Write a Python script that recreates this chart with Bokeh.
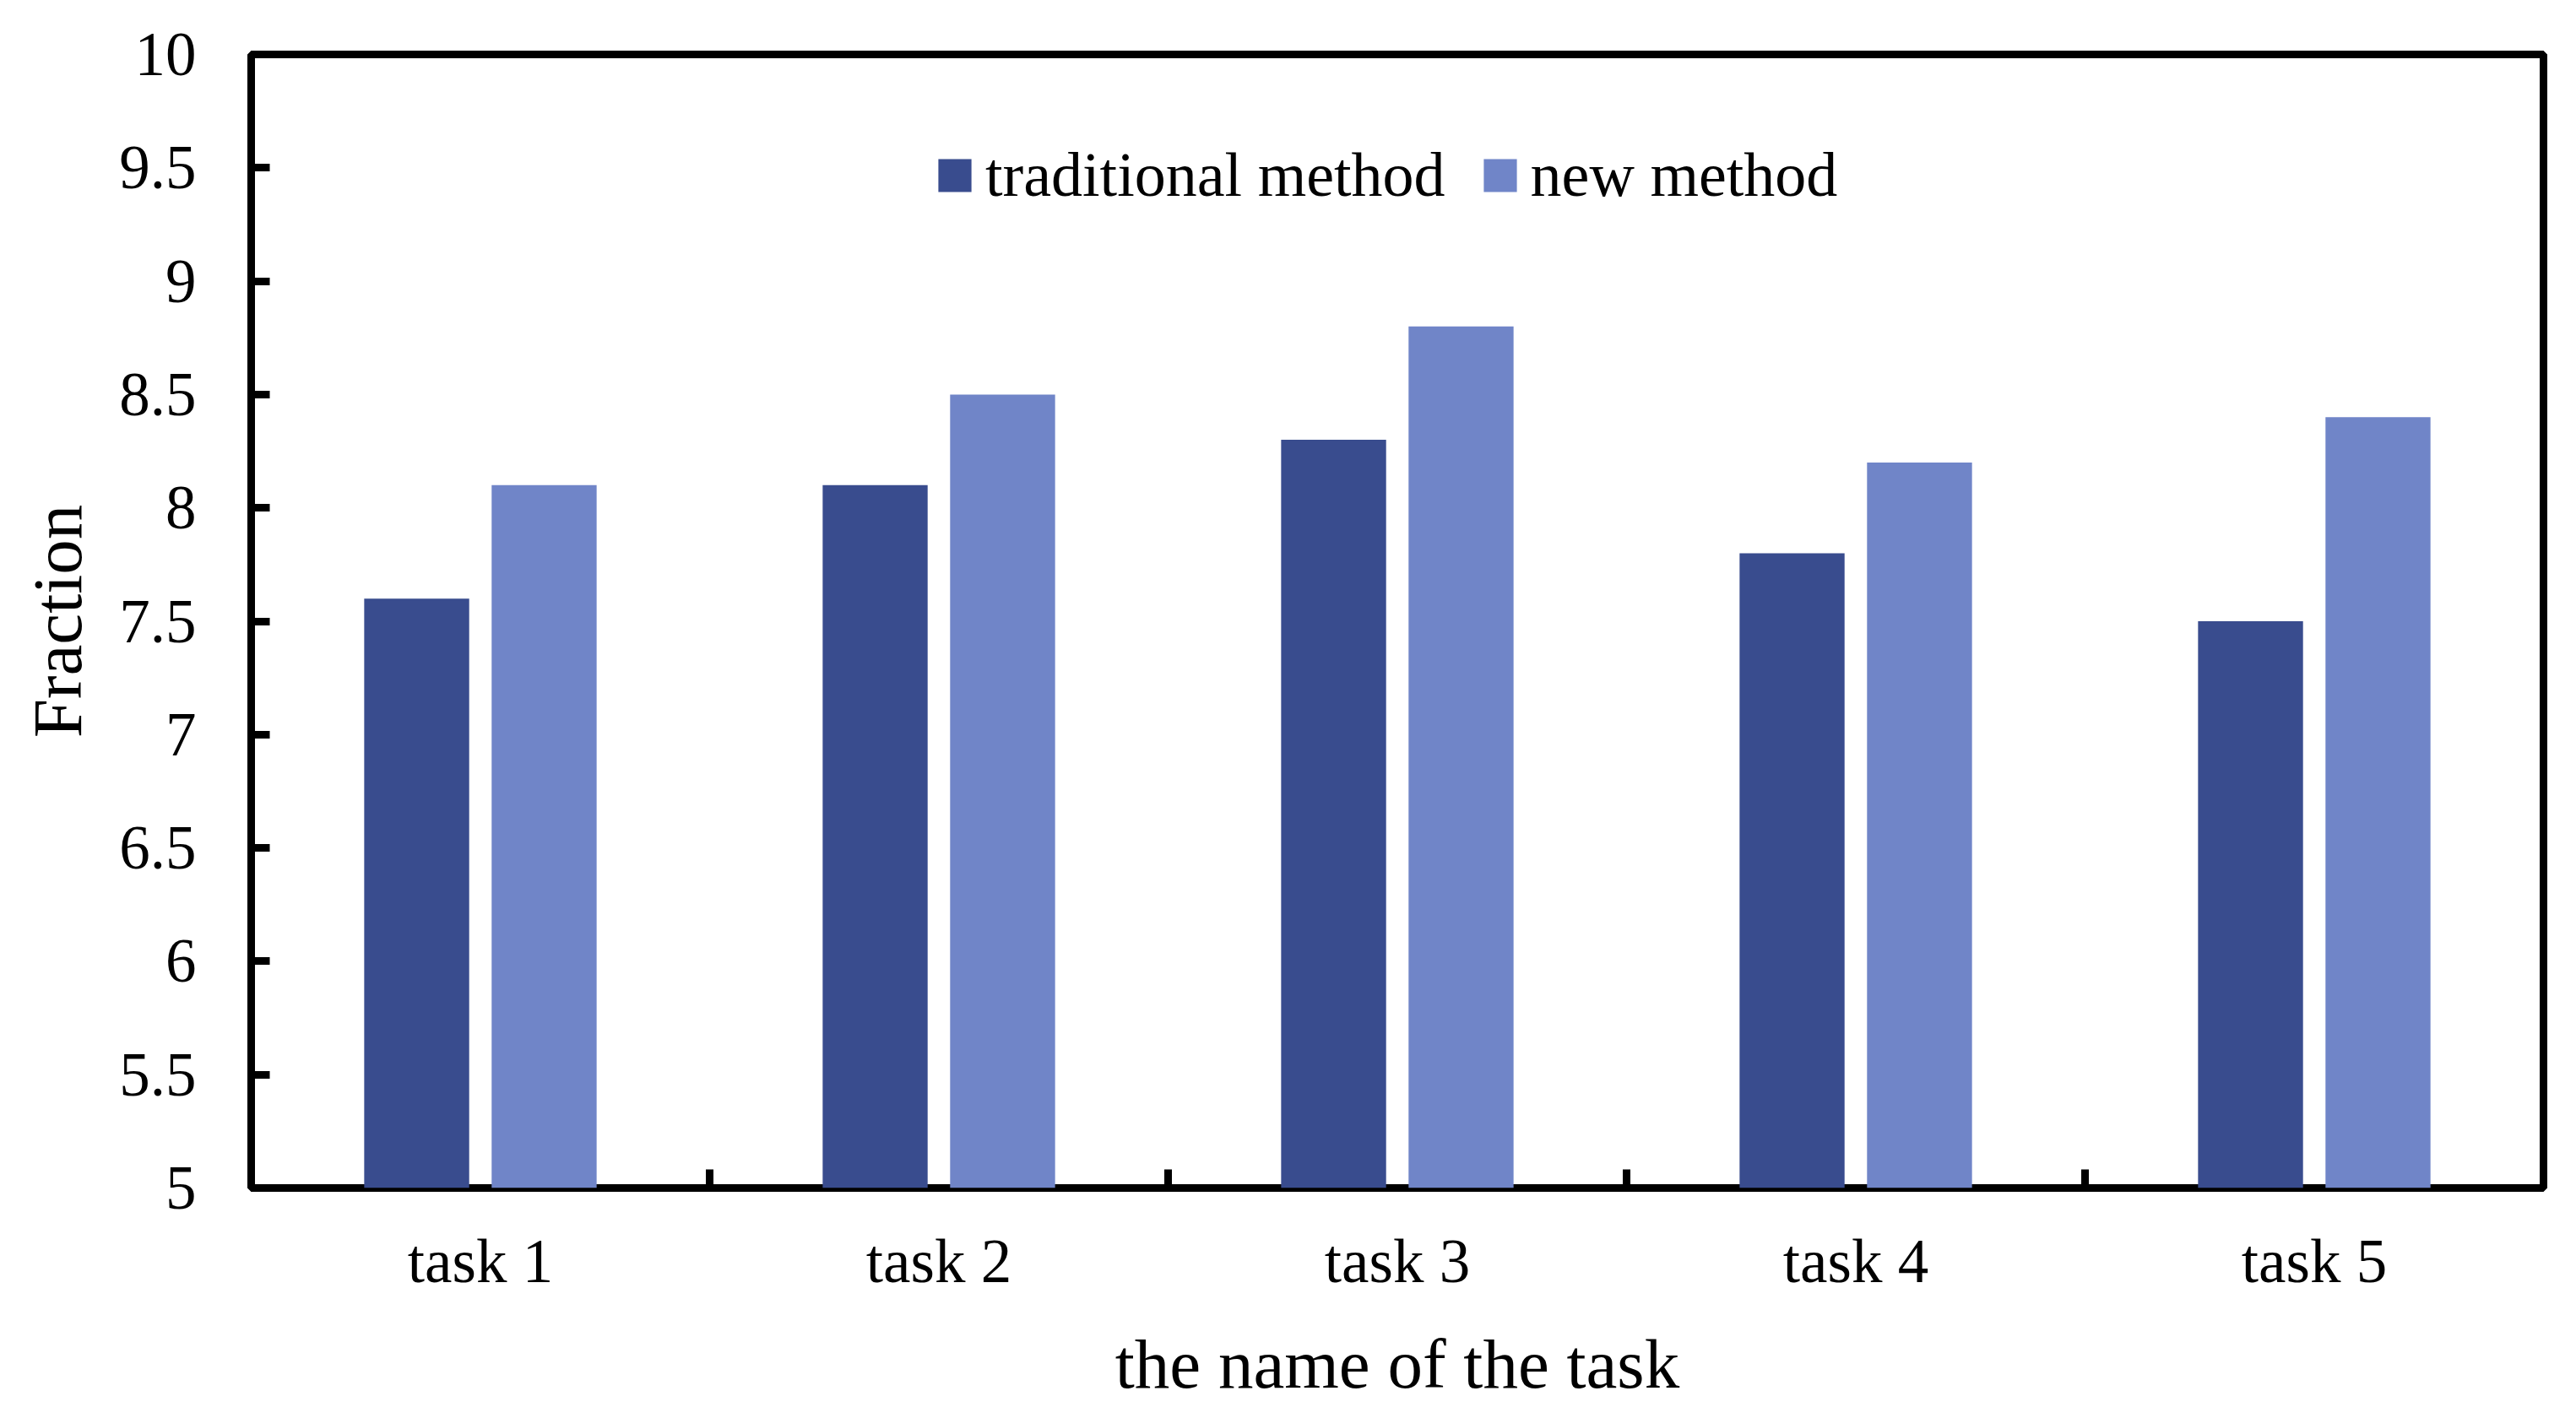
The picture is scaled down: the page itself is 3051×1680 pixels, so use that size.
import numpy as np
from bokeh.plotting import figure
from bokeh.models import (Range1d, FixedTicker, CustomJSTickFormatter, Legend,
                          LegendItem, ColumnDataSource)
from bokeh.embed import file_html
from bokeh.resources import INLINE

# ---- data ----
tasks = ["task 1", "task 2", "task 3", "task 4", "task 5"]
traditional = [7.6, 8.1, 8.3, 7.8, 7.5]
new_method = [8.1, 8.5, 8.8, 8.2, 8.4]
y_ticks = [5, 5.5, 6, 6.5, 7, 7.5, 8, 8.5, 9, 9.5, 10]
series_names = ["traditional method", "new method"]

DARK = "#394C8E"
LIGHT = "#7085C8"
FONT = "Liberation Serif"

n = len(tasks)
centers = np.arange(n) + 0.5
offset = 0.139
bar_w = 0.229

src = ColumnDataSource(dict(
    x_trad=centers - offset,
    x_new=centers + offset,
    trad=traditional,
    new=new_method,
))

p = figure(width=3035, height=1664,
           x_range=Range1d(0, n), y_range=Range1d(y_ticks[0], y_ticks[-1]),
           output_backend="svg", toolbar_location=None,
           min_border_left=297, min_border_right=23,
           min_border_top=64, min_border_bottom=256)

base = y_ticks[0]
r1 = p.vbar(x="x_trad", top="trad", bottom=base, width=bar_w, source=src,
            fill_color=DARK, line_color=None)
r2 = p.vbar(x="x_new", top="new", bottom=base, width=bar_w, source=src,
            fill_color=LIGHT, line_color=None)

p.xgrid.visible = False
p.ygrid.visible = False
p.outline_line_color = "black"
p.outline_line_width = 9
p.background_fill_color = "white"
p.border_fill_color = "white"

# x axis
xa = p.xaxis[0]
xa.ticker = FixedTicker(ticks=list(centers), minor_ticks=list(np.arange(1, n)))
xa.formatter = CustomJSTickFormatter(args=dict(names=tasks),
                                     code="return names[Math.floor(tick)]")
xa.axis_line_color = None
xa.major_tick_in = 0
xa.major_tick_out = 0
xa.minor_tick_in = 22
xa.minor_tick_out = 0
xa.minor_tick_line_width = 9
xa.minor_tick_line_color = "black"
xa.major_label_text_font = FONT
xa.major_label_text_font_size = "73px"
xa.major_label_text_color = "black"
xa.major_label_standoff = 46
xa.axis_label = "the name of the task"
xa.axis_label_text_font = FONT
xa.axis_label_text_font_size = "83px"
xa.axis_label_text_font_style = "normal"
xa.axis_label_text_color = "black"
xa.axis_label_standoff = 32

# y axis
ya = p.yaxis[0]
ya.ticker = FixedTicker(ticks=y_ticks)
ya.formatter = CustomJSTickFormatter(code="return tick.toString()")
ya.axis_line_color = None
ya.major_tick_in = 22
ya.major_tick_out = 0
ya.major_tick_line_width = 9
ya.major_tick_line_color = "black"
ya.minor_tick_line_color = None
ya.major_label_text_font = FONT
ya.major_label_text_font_size = "73px"
ya.major_label_text_color = "black"
ya.major_label_standoff = 65
ya.axis_label = "Fraction"
ya.axis_label_text_font = FONT
ya.axis_label_text_font_size = "83px"
ya.axis_label_text_font_style = "normal"
ya.axis_label_text_color = "black"
ya.axis_label_standoff = 24

legend = Legend(items=[LegendItem(label=series_names[0], renderers=[r1]),
                       LegendItem(label=series_names[1], renderers=[r2])],
                orientation="horizontal", location=(809, 1157),
                glyph_width=49, glyph_height=49, label_standoff=12,
                spacing=40, padding=0, margin=0,
                border_line_color=None, background_fill_alpha=0,
                label_text_font=FONT, label_text_font_size="74px",
                label_text_color="black")
p.add_layout(legend, "center")

open("out.html", "w").write(file_html(p, INLINE))
